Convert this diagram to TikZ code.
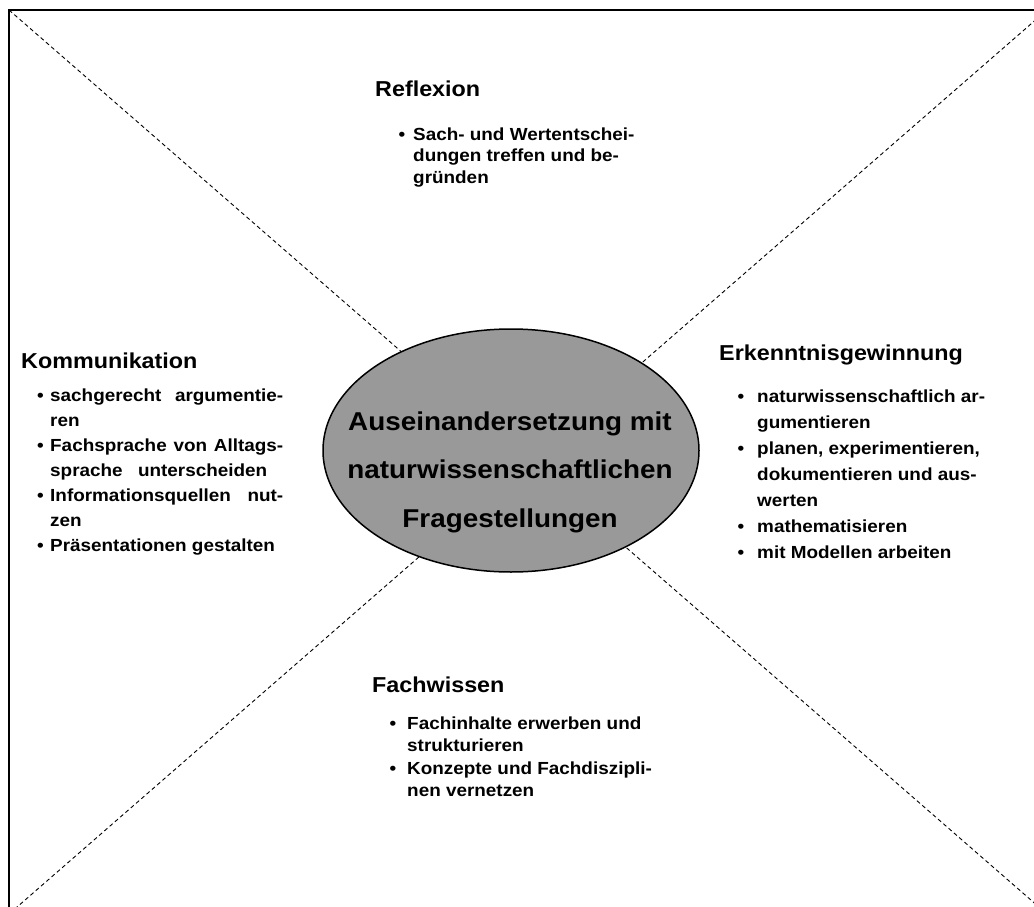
\documentclass[tikz,border=0pt]{standalone}
\usepackage{fontspec}
\setmainfont{Liberation Sans}[FakeStretch=1.08]
\tikzset{
  head/.style={anchor=base west, inner sep=0pt, font=\fontsize{21.6}{24}\selectfont\bfseries},
  txt/.style={anchor=base west, inner sep=0pt, font=\fontsize{17.5}{20}\selectfont\bfseries},
  bul/.style={anchor=base, inner sep=0pt, font=\fontsize{17.5}{20}\selectfont\bfseries},
  ctr/.style={anchor=base, inner sep=0pt, font=\fontsize{25.8}{28}\selectfont\bfseries},
  diag/.style={draw=black, line width=0.9pt, dash pattern=on 4pt off 3pt},
  frame/.style={draw=black, line width=1.3pt},
  core/.style={ellipse, draw=black, line width=1.5pt, fill=black!40, minimum width=376pt, minimum height=243pt, inner sep=0pt}
}
\usetikzlibrary{shapes.geometric}
\begin{document}
\begin{tikzpicture}[x=1pt,y=-1pt]
\useasboundingbox (0,0) rectangle (1034,907);
\clip (0,0) rectangle (1034,907);
\fill[white] (0,0) rectangle (1034,907);
% frame corners
\coordinate (tl) at (9,10);
\coordinate (tr) at (1047,10);
\coordinate (bl) at (9,914);
\coordinate (br) at (1047,914);
\draw[frame] (tl) rectangle (br);
\draw[diag] (tl) -- (br);
\draw[diag] (tr) -- (bl);
% centre ellipse
\node[core] (centre) at (511,450.5) {};
\node[ctr] (c1) at (510,430) {Auseinandersetzung mit};
\node[ctr] (c2) at (510,478.5) {naturwissenschaftlichen};
\node[ctr] (c3) at (510,527) {Fragestellungen};
% Reflexion
\node[head] (rh) at (375,96) {Reflexion};
\node[bul] (rb1) at (402,140) {•};
\node[txt] (r1) at (413,140) {Sach- und Wertentschei-};
\node[txt] (r2) at (413,161.5) {dungen treffen und be-};
\node[txt] (r3) at (413,183) {gründen};
% Kommunikation
\node[head] (kh) at (21,368) {Kommunikation};
\node[bul] (kb1) at (40.5,401) {•};
\node[txt] (k1) at (50,401) {\makebox[233pt][s]{sachgerecht argumentie-}};
\node[txt] (k2) at (50,426) {ren};
\node[bul] (kb2) at (40.5,451) {•};
\node[txt] (k3) at (50,451) {\makebox[233pt][s]{Fachsprache von Alltags-}};
\node[txt] (k4) at (50,476) {\makebox[217pt][s]{sprache unterscheiden}};
\node[bul] (kb3) at (40.5,501) {•};
\node[txt] (k5) at (50,501) {\makebox[233pt][s]{Informationsquellen nut-}};
\node[txt] (k6) at (50,526) {zen};
\node[bul] (kb4) at (40.5,551) {•};
\node[txt] (k7) at (50,551) {Präsentationen gestalten};
% Erkenntnisgewinnung
\node[head] (eh) at (719,360) {Erkenntnisgewinnung};
\node[bul] (eb1) at (741,402) {•};
\node[txt] (e1) at (757,402) {naturwissenschaftlich ar-};
\node[txt] (e2) at (757,428) {gumentieren};
\node[bul] (eb2) at (741,454) {•};
\node[txt] (e3) at (757,454) {planen, experimentieren,};
\node[txt] (e4) at (757,480) {dokumentieren und aus-};
\node[txt] (e5) at (757,506) {werten};
\node[bul] (eb3) at (741,532) {•};
\node[txt] (e6) at (757,532) {mathematisieren};
\node[bul] (eb4) at (741,558) {•};
\node[txt] (e7) at (757,558) {mit Modellen arbeiten};
% Fachwissen
\node[head] (fh) at (372,692) {Fachwissen};
\node[bul] (fb1) at (393,729) {•};
\node[txt] (f1) at (407,729) {Fachinhalte erwerben und};
\node[txt] (f2) at (407,751.5) {strukturieren};
\node[bul] (fb2) at (393,774) {•};
\node[txt] (f3) at (407,774) {Konzepte und Fachdiszipli-};
\node[txt] (f4) at (407,796.5) {nen vernetzen};
\end{tikzpicture}
\end{document}
